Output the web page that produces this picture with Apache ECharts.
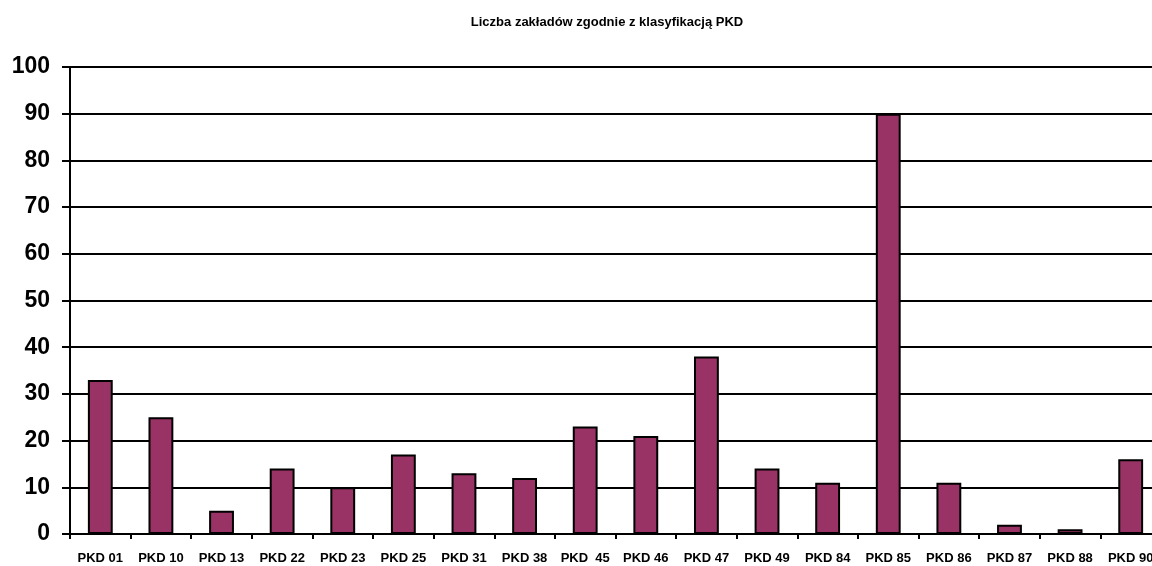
<!DOCTYPE html>
<html><head><meta charset="utf-8">
<script src="https://cdn.jsdelivr.net/npm/echarts@6/dist/echarts.min.js"></script>
<style>html,body{margin:0;padding:0;background:#fff;overflow:hidden}#c{width:1161px;height:566px}</style>
</head><body><div id="c"></div>
<script>
const categories = ['PKD 01','PKD 10','PKD 13','PKD 22','PKD 23','PKD 25','PKD 31','PKD 38','PKD  45','PKD 46','PKD 47','PKD 49','PKD 84','PKD 85','PKD 86','PKD 87','PKD 88','PKD 90'];
const values = [33,25,5,14,10,17,13,12,23,21,38,14,11,90,11,2,1,16];
const titleText = 'Liczba zakładów zgodnie z klasyfikacją PKD';

const chart = echarts.init(document.getElementById('c'));
chart.setOption({
  animation: false,
  backgroundColor: '#fff',
  title: {
    text: titleText, left: 602, top: 11, textAlign: 'center',
    textStyle: {fontFamily: 'Liberation Sans', fontSize: 13, fontWeight: 'bold', color: '#000'}
  },
  grid: {left: 70, top: 67, right: 0, bottom: 32, containLabel: false},
  xAxis: {
    type: 'category', data: categories,
    axisLine: {lineStyle: {color: '#000', width: 2}},
    axisTick: {show: true, length: 5, lineStyle: {color: '#000', width: 2}},
    axisLabel: {interval: 0, margin: 18, fontFamily: 'Liberation Sans', fontSize: 13, fontWeight: 'bold', color: '#000'}
  },
  yAxis: {
    type: 'value', min: 0, max: 100, interval: 10,
    axisLine: {show: true, lineStyle: {color: '#000', width: 2}},
    axisTick: {show: true, length: 8, lineStyle: {color: '#000', width: 2}},
    axisLabel: {margin: 20, fontFamily: 'Liberation Sans', fontSize: 23, fontWeight: 'bold', color: '#000'},
    splitLine: {show: true, lineStyle: {color: '#000', width: 2}}
  },
  series: [{
    type: 'bar', data: values, barWidth: '41%',
    itemStyle: {color: '#993366', borderColor: '#000', borderWidth: 2}
  }]
});
</script></body></html>
